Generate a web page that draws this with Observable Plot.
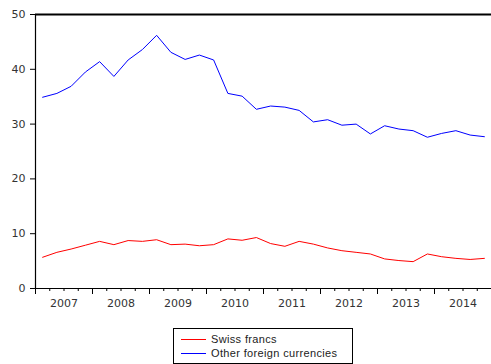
<!DOCTYPE html>
<html>
<head>
<meta charset="utf-8">
<script src="https://cdn.jsdelivr.net/npm/d3@7"></script>
<script src="https://cdn.jsdelivr.net/npm/@observablehq/plot@0.6"></script>
<style>
  html, body { margin: 0; padding: 0; background: #fff; }
  #wrap { position: relative; width: 491px; height: 364px; overflow: hidden; }
  #legend { position: absolute; left: 173px; top: 328px; width: 180px; height: 36px;
            box-sizing: border-box; border: 1px solid #000; background: #fff;
            font-family: "Liberation Sans", Arial, sans-serif; font-size: 11px; color: #222; }
  .item { position: absolute; left: 7px; height: 14px; display: flex; align-items: center; letter-spacing: 0.35px; }
  .item .sw { width: 25px; height: 0; border-top: 1px solid; margin-right: 5px; }
</style>
</head>
<body>
<div id="wrap">
  <div id="chart"></div>
  <div id="legend"></div>
</div>
<script>
const quarters = [
  "2007Q1","2007Q2","2007Q3","2007Q4","2008Q1","2008Q2","2008Q3","2008Q4",
  "2009Q1","2009Q2","2009Q3","2009Q4","2010Q1","2010Q2","2010Q3","2010Q4",
  "2011Q1","2011Q2","2011Q3","2011Q4","2012Q1","2012Q2","2012Q3","2012Q4",
  "2013Q1","2013Q2","2013Q3","2013Q4","2014Q1","2014Q2","2014Q3","2014Q4"
];
const swissFrancs = [
  5.7, 6.6, 7.2, 7.9, 8.6, 8.0, 8.75, 8.6,
  8.9, 8.0, 8.1, 7.8, 8.0, 9.05, 8.8, 9.3,
  8.2, 7.7, 8.6, 8.1, 7.4, 6.9, 6.6, 6.3,
  5.4, 5.1, 4.9, 6.3, 5.8, 5.5, 5.3, 5.5
];
const otherCurrencies = [
  34.9, 35.6, 36.9, 39.5, 41.4, 38.7, 41.7, 43.6,
  46.2, 43.1, 41.8, 42.6, 41.7, 35.6, 35.1, 32.7,
  33.3, 33.1, 32.5, 30.4, 30.8, 29.8, 30.0, 28.2,
  29.7, 29.1, 28.8, 27.6, 28.3, 28.8, 28.0, 27.7
];
const seriesNames = ["Swiss francs", "Other foreign currencies"];
const seriesColors = ["#ff0000", "#0000ff"];
const yTicks = [0, 10, 20, 30, 40, 50];
const years = [2007, 2008, 2009, 2010, 2011, 2012, 2013, 2014];

const qx = q => +q.slice(0, 4) + (+q.slice(5) - 0.5) / 4;
const data = [];
quarters.forEach((q, i) => {
  data.push({x: qx(q), value: swissFrancs[i], series: seriesNames[0]});
  data.push({x: qx(q), value: otherCurrencies[i], series: seriesNames[1]});
});
const quarterTicks = d3.range(years[0], years[years.length - 1] + 1, 0.25);
const yearTicks = years.concat([years[years.length - 1] + 1]);
const yearMid = years.map(y => y + 0.5);

const chart = Plot.plot({
  width: 491,
  height: 322,
  marginTop: 14,
  marginLeft: 35,
  marginRight: 0,
  marginBottom: 34,
  style: {fontFamily: "'DejaVu Sans', sans-serif", fontSize: "11px", color: "#333", background: "#fff", overflow: "visible"},
  x: {domain: [2007, 2015]},
  y: {domain: [0, 50]},
  color: {domain: seriesNames, range: seriesColors},
  marks: [
    Plot.axisY({ticks: yTicks, tickSize: 5, tickPadding: 5, label: null, stroke: "#000", fill: "#333", style: {letterSpacing: "0.6px"}}),
    Plot.axisX({ticks: quarterTicks, tickSize: 3, tickFormat: () => "", label: null, stroke: "#000"}),
    Plot.axisX({ticks: yearTicks, tickSize: 6, tickFormat: () => "", label: null, stroke: "#000"}),
    Plot.axisX({ticks: yearMid, tickSize: 0, tickPadding: 11, tickFormat: d => String(Math.floor(d)), label: null, fill: "#333", style: {letterSpacing: "0.6px"}}),
    Plot.ruleY([50], {stroke: "#000", strokeWidth: 2}),
    Plot.ruleY([0], {stroke: "#000", strokeWidth: 1.2}),
    Plot.ruleX([2007], {stroke: "#000", strokeWidth: 1.2}),
    Plot.line(data, {x: "x", y: "value", z: "series", stroke: "series", strokeWidth: 1})
  ]
});
document.getElementById("chart").appendChild(chart);

const legend = document.getElementById("legend");
seriesNames.forEach((name, i) => {
  const it = document.createElement("div");
  it.className = "item";
  it.style.top = (i === 0 ? 3 : 17) + "px";
  const sw = document.createElement("span");
  sw.className = "sw";
  sw.style.borderColor = seriesColors[i];
  const t = document.createElement("span");
  t.textContent = name;
  it.appendChild(sw);
  it.appendChild(t);
  legend.appendChild(it);
});
</script>
</body>
</html>
